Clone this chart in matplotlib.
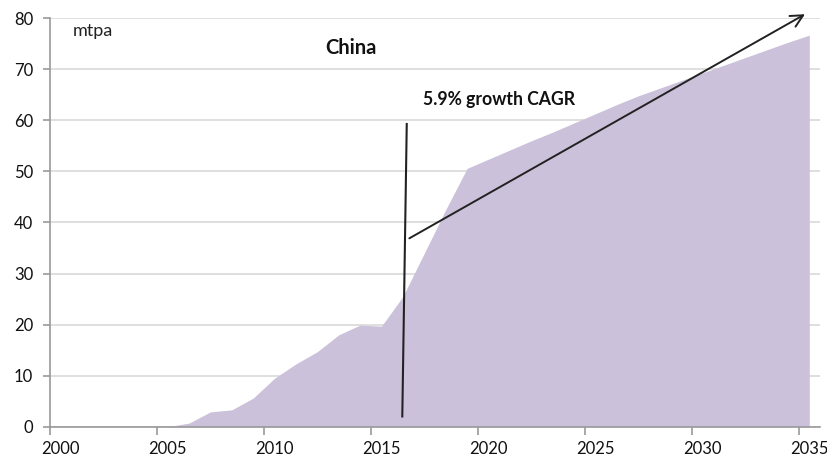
import matplotlib
matplotlib.use("Agg")
import matplotlib.pyplot as plt
from matplotlib.ticker import FixedLocator, NullFormatter

# ---- data ----
years = list(range(2000, 2036))
values = [0, 0, 0, 0, 0, 0,
          0.7, 2.9, 3.3, 5.6, 9.5, 12.3, 14.7, 18.0, 19.9, 19.7,
          25.5, 34.0, 42.5, 50.6, 52.4, 54.2, 56.0, 57.7, 59.5, 61.3,
          63.1, 64.8, 66.3, 67.8, 69.3, 70.8, 72.3, 73.8, 75.3, 76.7]
x_tick_labels = ["2000", "2005", "2010", "2015", "2020", "2025", "2030", "2035"]
y_ticks = [0, 10, 20, 30, 40, 50, 60, 70, 80]

# annotation geometry (data coordinates)
vline_x = [2016.18, 2015.97]
vline_y = [59.5, 1.8]
arrow_start = (2016.3, 36.9)
arrow_end = (2034.8, 80.8)

FONT = ["Lato", "DejaVu Sans"]
plt.rcParams["font.family"] = FONT

fig = plt.figure(figsize=(8.28, 4.59), dpi=100)
ax = fig.add_axes([50 / 828, 1 - 426.7 / 459, (820 - 50) / 828, (426.7 - 18.3) / 459])

ax.fill_between(years, values, 0, color="#CCC1DA", linewidth=0, zorder=2)

ax.set_xlim(1999.5, 2035.5)
ax.set_ylim(0, 80)

# grid
ax.set_yticks(y_ticks)
ax.yaxis.grid(True, color="#D9D9D9", linewidth=1.2, zorder=0)
ax.set_axisbelow(True)

# x axis: labels at category centres, tick marks at category boundaries
label_pos = [int(t) for t in x_tick_labels]
ax.set_xticks(label_pos)
ax.set_xticklabels(x_tick_labels)
ax.xaxis.set_minor_locator(FixedLocator([p - 0.5 for p in label_pos]))
ax.xaxis.set_minor_formatter(NullFormatter())
ax.tick_params(axis="x", which="major", length=0, pad=10, labelsize=12, labelcolor="#111111")
ax.tick_params(axis="x", which="minor", length=6, width=1.2, color="#999999", direction="out")
ax.tick_params(axis="y", which="major", length=5, width=1.2, color="#999999", pad=7,
               labelsize=12, labelcolor="#111111")

for s in ["top", "right"]:
    ax.spines[s].set_visible(False)
for s in ["left", "bottom"]:
    ax.spines[s].set_color("#999999")
    ax.spines[s].set_linewidth(1.2)

# texts
ax.text(2000.57, 77.5, "mtpa", fontsize=13, va="center", ha="left", color="#222222")
ax.text(2013.57, 74.2, "China", fontsize=14.5, fontweight="bold", va="center", ha="center",
        color="#111111")
ax.text(2016.94, 64.0, "5.9% growth CAGR", fontsize=12.7, fontweight="bold", va="center",
        ha="left", color="#111111")

# vertical marker line
ax.plot(vline_x, vline_y, color="#222222", linewidth=1.5, zorder=4, solid_capstyle="butt")

# growth arrow
ax.annotate("", xy=arrow_end, xytext=arrow_start, annotation_clip=False,
            arrowprops=dict(arrowstyle="->", color="#222222", lw=1.4,
                            mutation_scale=22, shrinkA=0, shrinkB=0), zorder=5)

fig.savefig("out.png", dpi=100)
